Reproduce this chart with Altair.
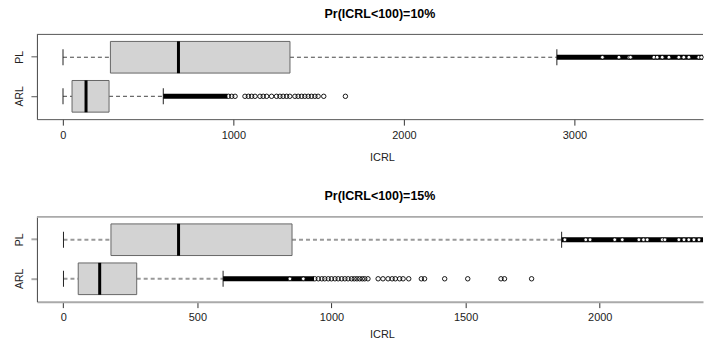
import altair as alt
import pandas as pd

groups = ["PL", "ARL"]

# Panel 1: Pr(ICRL<100)=10%
p1_lo = [1, 1]
p1_q1 = [279, 54]
p1_med = [678, 136]
p1_q3 = [1332, 271]
p1_hi = [2897, 589]
p1_band_start = [2897, 589]
p1_band_end = [3754, 965]
p1_pl_specks = [3164, 3261, 3320, 3329, 3466, 3485, 3515, 3554, 3612, 3641, 3671, 3729, 3745]
p1_arl_out = [971, 990, 1010, 1068, 1088, 1107, 1127, 1156, 1175, 1195, 1224, 1253, 1273,
              1292, 1312, 1331, 1361, 1380, 1400, 1419, 1439, 1458, 1478, 1497, 1530, 1657]
p1_ticks = [0, 1000, 2000, 3000]
p1_domain = [-152, 3754]

# Panel 2: Pr(ICRL<100)=15%
p2_lo = [1, 1]
p2_q1 = [178, 56]
p2_med = [430, 136]
p2_q3 = [853, 274]
p2_hi = [1858, 596]
p2_band_start = [1858, 596]
p2_band_end = [2385, 935]
p2_pl_specks = [1870, 1948, 1964, 2056, 2084, 2146, 2163, 2177, 2233, 2243, 2295, 2314, 2332,
                2351, 2370]
p2_arl_specks = [845, 895]
p2_arl_out = [938, 951, 964, 975, 988, 1000, 1013, 1025, 1038, 1050, 1062, 1075, 1085, 1095,
              1105, 1115, 1124, 1136, 1174, 1192, 1211, 1226, 1238, 1254, 1267, 1288, 1335,
              1347, 1422, 1508, 1632, 1645, 1746]
p2_ticks = [0, 500, 1000, 1500, 2000]
p2_domain = [-98, 2385]

FONT = "Liberation Sans"
W = 668
H = 85


def panel(title, lo, q1, med, q3, hi, bstart, bend, specks, out, ticks, domain,
          hcol, hwidth, dcol, dwidth, title_y):
    stats = pd.DataFrame({"group": groups, "lo": lo, "q1": q1, "med": med, "q3": q3,
                          "hi": hi, "bs": bstart, "be": bend})
    sp = pd.DataFrame(specks, columns=["group", "v"])
    ou = pd.DataFrame(out, columns=["group", "v"])

    xs = alt.Scale(domain=domain, nice=False, zero=False)
    xa = alt.Axis(values=ticks, format="d", tickSize=6, tickColor="#333", tickWidth=1,
                  domainColor=hcol, domainWidth=hwidth, grid=False,
                  labelFont=FONT, labelFontSize=11, labelColor="#222", labelPadding=4,
                  titleFont=FONT, titleFontSize=11, titleColor="#222", titleFontWeight="normal",
                  titleX=346, titleY=title_y, titleBaseline="middle")
    ys = alt.Scale(domain=groups, paddingInner=0.19, paddingOuter=0.18)
    ya = alt.Axis(labelAngle=270, labelAlign="center", labelBaseline="bottom",
                  tickSize=6, tickColor=hcol, tickWidth=hwidth, domainColor="#444",
                  labelFont=FONT, labelFontSize=10.5, labelColor="#222", labelPadding=6,
                  grid=False, title=None)
    y = alt.Y("group:N", scale=ys, axis=ya, sort=groups, title=None)

    def X(f):
        return alt.X(f, type="quantitative", scale=xs, axis=xa, title="ICRL")

    base = alt.Chart(stats)
    wl = base.mark_rule(color=dcol, strokeWidth=dwidth, strokeDash=[4, 3]).encode(
        x=X("lo"), x2="q1", y=y)
    wh = base.mark_rule(color=dcol, strokeWidth=dwidth, strokeDash=[4, 3]).encode(
        x=X("q3"), x2="hi", y=y)
    box = base.mark_bar(fill="#d3d3d3", stroke="#666", strokeWidth=1).encode(
        x=X("q1"), x2="q3", y=y)
    medt = base.mark_tick(color="black", thickness=3, size=32, opacity=1).encode(x=X("med"), y=y)
    capl = base.mark_tick(color="#222", thickness=1, size=16, opacity=1).encode(x=X("lo"), y=y)
    caph = base.mark_tick(color="#222", thickness=1, size=16, opacity=1).encode(x=X("hi"), y=y)
    band = base.mark_rule(color="black", strokeWidth=5).encode(x=X("bs"), x2="be", y=y)
    spk = alt.Chart(sp).mark_point(shape="circle", size=14, filled=False, fill="white",
                                   fillOpacity=1, stroke="black", strokeWidth=0.8,
                                   opacity=1).encode(x=X("v"), y=y)
    outp = alt.Chart(ou).mark_point(shape="circle", size=20, filled=False, stroke="black",
                                    strokeWidth=0.9, opacity=1).encode(x=X("v"), y=y)
    top = alt.Chart(pd.DataFrame({"a": [0]})).mark_rule(color=hcol, strokeWidth=hwidth).encode(
        x=alt.value(0), x2=alt.value(W), y=alt.value(0))

    return alt.layer(wl, wh, box, medt, capl, caph, band, outp, spk, top).properties(
        width=W, height=H,
        title=alt.TitleParams(title, font=FONT, fontSize=12.5, fontWeight="bold",
                              color="black", anchor="middle", dx=10, offset=13))


p1_specks = [("PL", v) for v in p1_pl_specks]
p1_out = [("ARL", v) for v in p1_arl_out]
p2_specks = [("PL", v) for v in p2_pl_specks] + [("ARL", v) for v in p2_arl_specks]
p2_out = [("ARL", v) for v in p2_arl_out]

c1 = panel("Pr(ICRL<100)=10%", p1_lo, p1_q1, p1_med, p1_q3, p1_hi, p1_band_start, p1_band_end,
           p1_specks, p1_out, p1_ticks, p1_domain, "#555", 1, "#444", 1, 38)
c2 = panel("Pr(ICRL<100)=15%", p2_lo, p2_q1, p2_med, p2_q3, p2_hi, p2_band_start, p2_band_end,
           p2_specks, p2_out, p2_ticks, p2_domain, "#aaa", 2, "#999", 2, 33)

chart = alt.vconcat(c1, c2, spacing=28).properties(
    padding={"left": 6, "top": 0, "right": 0, "bottom": 0},
    background="white",
).configure_view(stroke=None)

chart.save("out.html", embed_options={"renderer": "svg", "actions": False})
